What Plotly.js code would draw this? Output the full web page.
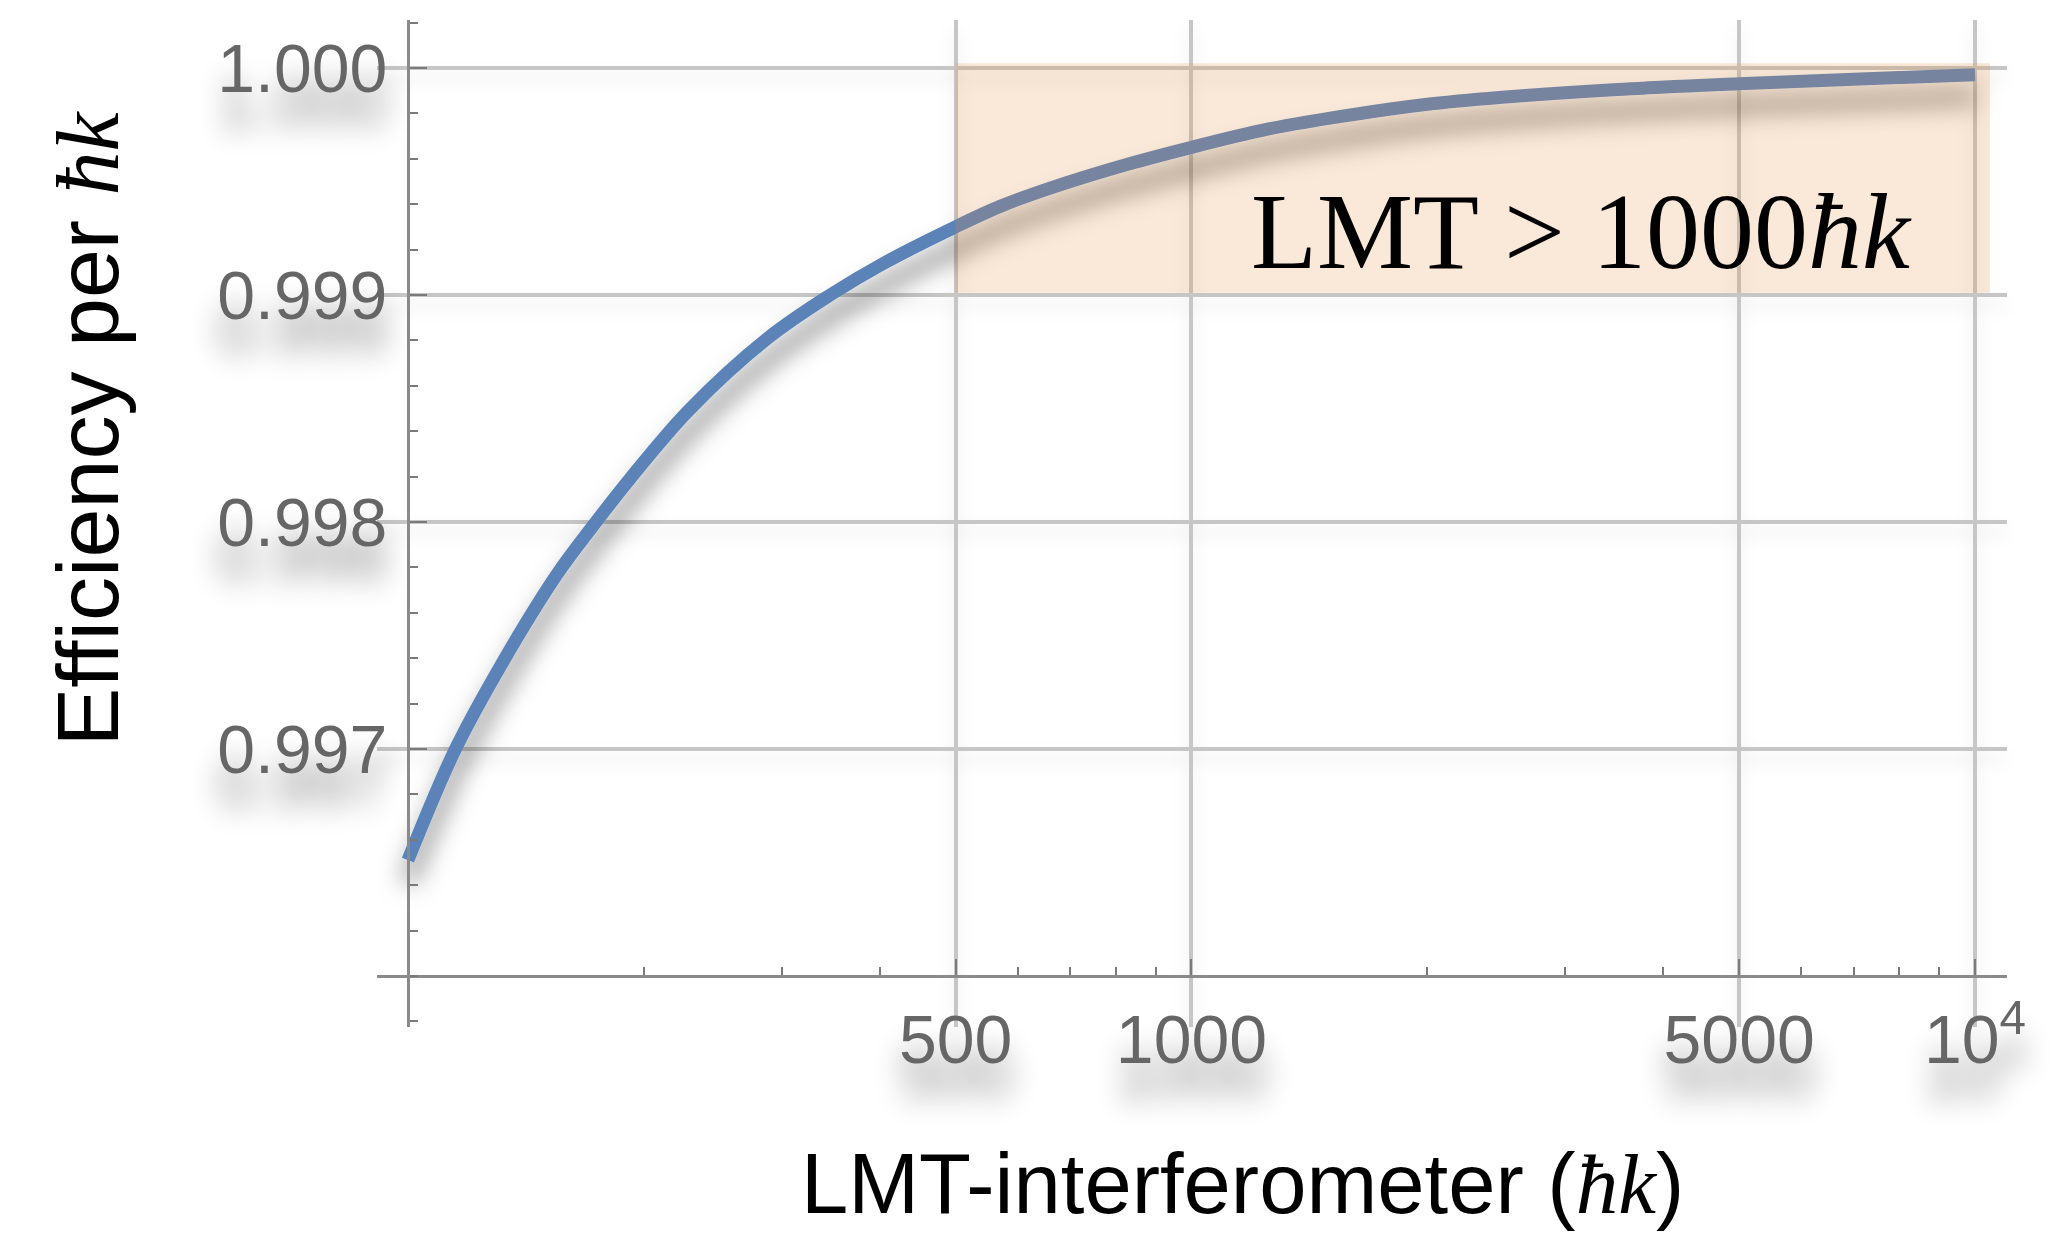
<!DOCTYPE html>
<html>
<head>
<meta charset="utf-8">
<script src="https://cdn.plot.ly/plotly-3.0.1.min.js"></script>
<style>
  html, body { margin: 0; padding: 0; background: #ffffff; }
  #chart { width: 2060px; height: 1234px; }
</style>
</head>
<body>
<div id="chart"></div>
<script>
// ---- data ----
const lmtOrder = [100, 115, 132, 155, 172, 192, 228, 288, 346, 405, 500, 570, 660, 800, 1000, 1250, 1510, 2000, 2470, 3500, 5000, 7000, 10000];
const efficiencyPerHk = [0.99651, 0.99700, 0.99738, 0.99777, 0.99798, 0.99819, 0.99849, 0.99881, 0.99900, 0.99914, 0.99930, 0.99939, 0.99947, 0.99956, 0.99965, 0.99973, 0.99978, 0.99984, 0.99987, 0.999905, 0.99993, 0.99995, 0.99997];

const xTickVals = [500, 1000, 5000, 10000];
const xTickText = ['500', '1000', '5000', '10<sup>4</sup>'];
const xMinorVals = [200, 300, 400, 600, 700, 800, 900, 2000, 3000, 4000, 6000, 7000, 8000, 9000];

const yTickVals = [0.997, 0.998, 0.999, 1.000];
const yTickText = ['0.997', '0.998', '0.999', '1.000'];
const yMinorVals = [0.9958, 0.9960, 0.9962, 0.9964, 0.9966, 0.9968, 0.9972, 0.9974, 0.9976, 0.9978,
                    0.9982, 0.9984, 0.9986, 0.9988, 0.9992, 0.9994, 0.9996, 0.9998, 1.0002];

const shadeX = [500, 10450];
const shadeY = [0.99901, 1.00002];
const shadeLabel = 'LMT &gt; 1000<i>ħk</i>';
const shadeLabelPos = [3145, 0.99928];

const xTitle = 'LMT-interferometer (<span style="font-family:Liberation Serif"><i>ħk</i></span>)';
const yTitle = 'Efficiency per <span style="font-family:Liberation Serif"><i>ħk</i></span>';

// ---- styles ----
const SANS = 'Liberation Sans, Arial, Helvetica, sans-serif';
const SERIF = 'Liberation Serif, Times New Roman, serif';
const tickGray = '#666666';
const gridGray = '#c6c6c6';
const axisGray = '#8a8a8a';

const trace = {
  x: lmtOrder,
  y: efficiencyPerHk,
  type: 'scatter',
  mode: 'lines',
  line: { color: '#5c83b8', width: 13, shape: 'spline', smoothing: 1.0 },
  hoverinfo: 'skip',
  showlegend: false
};

const layout = {
  width: 2060,
  height: 1234,
  margin: { l: 377, r: 53, t: 20, b: 207 },
  paper_bgcolor: '#ffffff',
  plot_bgcolor: '#ffffff',
  showlegend: false,
  xaxis: {
    type: 'log',
    range: [1.9605, 4.0408],
    anchor: 'free',
    position: 0.0506,
    showline: true, linecolor: axisGray, linewidth: 3,
    showgrid: true, gridcolor: gridGray, gridwidth: 4,
    zeroline: false,
    tickmode: 'array', tickvals: xTickVals, ticktext: xTickText,
    ticks: 'inside', ticklen: 16, tickwidth: 2, tickcolor: '#7a7a7a',
    ticklabelstandoff: 3,
    tickfont: { family: SANS, size: 68, color: tickGray },
    minor: { tickmode: 'array', tickvals: xMinorVals, ticks: 'inside', ticklen: 8, tickwidth: 2, tickcolor: '#7a7a7a', showgrid: false }
  },
  yaxis: {
    range: [0.995775, 1.000211],
    anchor: 'free',
    position: 0.0190,
    showline: true, linecolor: axisGray, linewidth: 3,
    showgrid: true, gridcolor: gridGray, gridwidth: 4,
    zeroline: false,
    tickmode: 'array', tickvals: yTickVals, ticktext: yTickText,
    ticks: 'inside', ticklen: 17, tickwidth: 2, tickcolor: '#7a7a7a',
    ticklabelstandoff: 6,
    tickfont: { family: SANS, size: 68, color: tickGray },
    minor: { tickmode: 'array', tickvals: yMinorVals, ticks: 'inside', ticklen: 8, tickwidth: 2, tickcolor: '#7a7a7a', showgrid: false }
  },
  shapes: [{
    type: 'rect', xref: 'x', yref: 'y',
    x0: shadeX[0], x1: shadeX[1], y0: shadeY[0], y1: shadeY[1],
    fillcolor: 'rgba(230,140,60,0.2)', line: { width: 0 }, layer: 'above'
  }],
  annotations: [
    {
      xref: 'x', yref: 'y', x: Math.log10(shadeLabelPos[0]), y: shadeLabelPos[1],
      text: shadeLabel, showarrow: false, xanchor: 'center', yanchor: 'middle',
      font: { family: SERIF, size: 108, color: '#000000' }
    },
    {
      xref: 'paper', yref: 'paper', x: 0.5, y: 0, xanchor: 'center', yanchor: 'middle',
      xshift: 50, yshift: -156,
      text: xTitle, showarrow: false,
      font: { family: SANS, size: 85, color: '#000000' }
    },
    {
      xref: 'paper', yref: 'paper', x: 0, y: 0.5, xanchor: 'center', yanchor: 'middle',
      xshift: -290, yshift: 95, textangle: -90,
      text: yTitle, showarrow: false,
      font: { family: SANS, size: 88, color: '#000000' }
    }
  ]
};

function addShadows() {
  const svg = document.querySelector('#chart svg.main-svg');
  if (!svg) return;
  const NS = 'http://www.w3.org/2000/svg';
  let defs = svg.querySelector('defs');
  if (!defs) { defs = document.createElementNS(NS, 'defs'); svg.insertBefore(defs, svg.firstChild); }
  function mk(id, dy, sd, op) {
    const f = document.createElementNS(NS, 'filter');
    f.setAttribute('id', id);
    f.setAttribute('filterUnits', 'userSpaceOnUse');
    f.setAttribute('x', '-2000'); f.setAttribute('y', '-2000');
    f.setAttribute('width', '6000'); f.setAttribute('height', '6000');
    const d = document.createElementNS(NS, 'feDropShadow');
    d.setAttribute('dx', '0'); d.setAttribute('dy', String(dy));
    d.setAttribute('stdDeviation', String(sd));
    d.setAttribute('flood-color', '#000000');
    d.setAttribute('flood-opacity', String(op));
    f.appendChild(d);
    defs.appendChild(f);
  }
  mk('shLine', 22, 12, 0.50);
  mk('shText', 34, 14, 0.45);
  mk('shGrid', 10, 8, 0.10);
  document.querySelectorAll('#chart .scatterlayer path.js-line').forEach(p => p.setAttribute('filter', 'url(#shLine)'));
  document.querySelectorAll('#chart g.xtick text, #chart g.ytick text').forEach(t => t.setAttribute('filter', 'url(#shText)'));
  document.querySelectorAll('#chart g.gridlayer').forEach(g => g.setAttribute('filter', 'url(#shGrid)'));
}

Plotly.newPlot('chart', [trace], layout, { staticPlot: true, displayModeBar: false }).then(addShadows);
</script>
</body>
</html>
